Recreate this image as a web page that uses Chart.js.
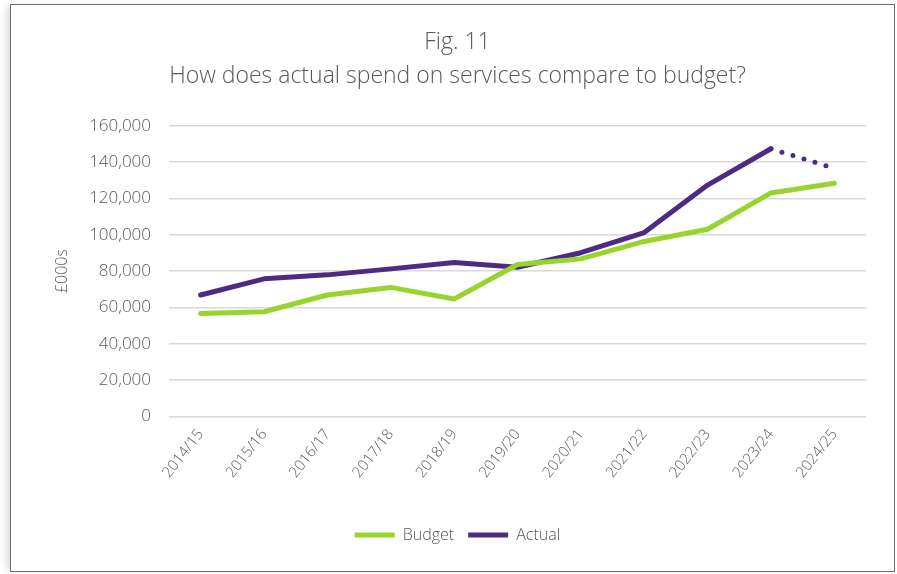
<!DOCTYPE html>
<html>
<head>
<meta charset="utf-8">
<script src="https://cdn.jsdelivr.net/npm/chart.js@4"></script>
<style>
  body { margin: 0; background: #fff; }
  #frame {
    position: absolute; left: 10px; top: 4px; width: 885px; height: 568px;
    box-sizing: border-box; border: 1px solid #6b6b6b;
    box-shadow: -6px 0 6px -2px rgba(0,0,0,0.12);
    background: #fff;
  }
</style>
</head>
<body>
<div id="frame"><canvas id="chart" width="883" height="566"></canvas></div>
<script>
const years = ["2014/15", "2015/16", "2016/17", "2017/18", "2018/19", "2019/20",
  "2020/21", "2021/22", "2022/23", "2023/24", "2024/25"];
const budget = [56600, 57600, 66800, 71000, 64600, 83600, 86700, 96300, 103000, 123000, 128300];
const actual = [66800, 75700, 77900, 81200, 84700, 82100, 90100, 101200, 127300, 147300, 136600];
const yTicks = [0, 20000, 40000, 60000, 80000, 100000, 120000, 140000, 160000];

const GREY = "#595959";
const FONT = "'Open Sans', 'Lato', sans-serif";
Chart.defaults.font.family = FONT;
Chart.defaults.font.weight = "300";
Chart.defaults.color = GREY;

// last actual value is a forecast, drawn dotted
const dotted = (ctx) => (ctx.p0DataIndex === 9 ? [0, 11.5] : undefined);

new Chart(document.getElementById("chart"), {
  type: "line",
  data: {
    labels: years,
    datasets: [
      {
        label: "Budget",
        data: budget,
        borderColor: "#97d42e",
        backgroundColor: "#97d42e",
        borderWidth: 5,
        borderCapStyle: "round",
        borderJoinStyle: "round",
        pointRadius: 0,
        tension: 0,
      },
      {
        label: "Actual",
        data: actual,
        borderColor: "#4d2b80",
        backgroundColor: "#4d2b80",
        borderWidth: 5,
        borderCapStyle: "round",
        borderJoinStyle: "round",
        pointRadius: 0,
        tension: 0,
        segment: { borderDash: dotted },
      },
    ],
  },
  options: {
    responsive: false,
    animation: false,
    layout: { padding: { left: 38, right: 28, top: 16, bottom: 18 } },
    plugins: {
      title: {
        display: true,
        text: ["Fig. 11", "How does actual spend on services compare to budget?"],
        font: { size: 23, weight: "300", lineHeight: 1.45 },
        color: GREY,
        padding: { top: 5, bottom: 33 },
      },
      legend: {
        position: "bottom",
        labels: {
          usePointStyle: true,
          pointStyle: "line",
          pointStyleWidth: 40,
          font: { size: 16 },
          color: GREY,
          padding: 14,
        },
      },
      tooltip: { enabled: false },
    },
    scales: {
      x: {
        offset: true,
        grid: { display: false, drawTicks: false },
        border: { display: false },
        ticks: { maxRotation: 52, minRotation: 52, font: { size: 15 }, color: GREY, padding: 9.5 },
        afterFit: (s) => { s.height = s.height + 22; },
      },
      y: {
        min: 0,
        max: 160000,
        afterBuildTicks: (scale) => { scale.ticks = yTicks.map((v) => ({ value: v })); },
        afterFit: (s) => { s.width = 120; },
        grid: { color: "#d9d9d9", lineWidth: 1.5, drawTicks: false },
        border: { display: false },
        ticks: {
          font: { size: 17 },
          color: GREY,
          padding: 18,
          callback: (v) => v.toLocaleString("en-GB"),
        },
        title: { display: true, text: "£000s", font: { size: 16 }, color: GREY, padding: 4 },
      },
    },
  },
});
</script>
</body>
</html>
